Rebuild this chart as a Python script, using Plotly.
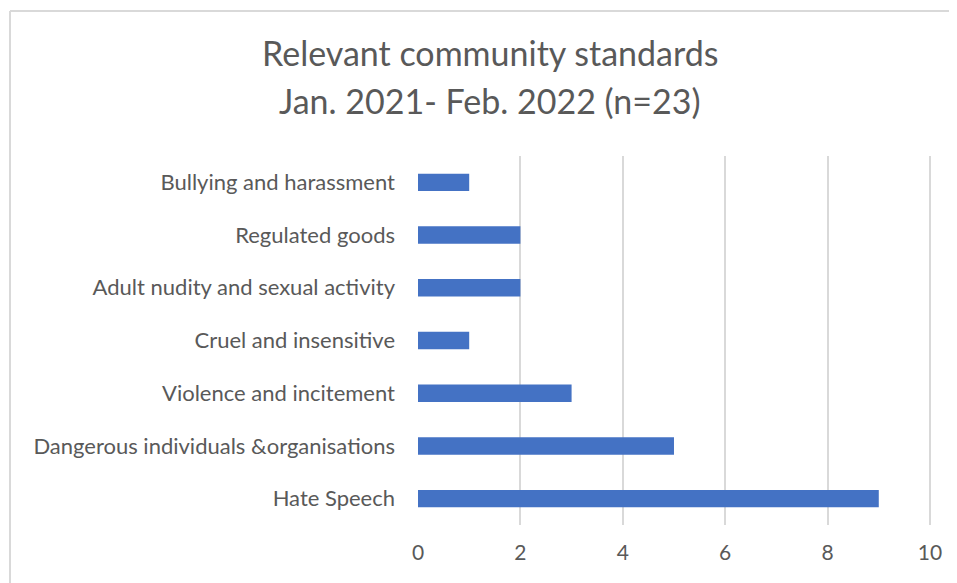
import plotly.graph_objects as go

categories = [
    "Hate Speech",
    "Dangerous individuals &organisations",
    "Violence and incitement",
    "Cruel and insensitive",
    "Adult nudity and sexual activity",
    "Regulated goods",
    "Bullying and harassment",
]
values = [9, 5, 3, 1, 2, 2, 1]
x_ticks = [0, 2, 4, 6, 8, 10]
title_lines = ["Relevant community standards", "Jan. 2021- Feb. 2022 (n=23)"]

W, H = 957, 583
OFF = 8  # page body margin
ml, mt, mb = 418 - OFF, 156 - OFF, 58 + OFF
pw = 513
mr = W - ml - pw
ph = H - mt - mb

def px_x(p):
    return (p - OFF - ml) / pw

def px_y(p):
    return (H - mb - (p - OFF)) / ph

text_color = "#595959"
font_family = "Lato, 'Open Sans', sans-serif"

fig = go.Figure(
    go.Bar(
        y=categories,
        x=values,
        orientation="h",
        marker=dict(color="#4472C4", line=dict(width=0)),
    )
)

annotations = [
    dict(text=t, xref="paper", yref="paper", x=px_x(490), y=px_y(yy),
         xanchor="center", yanchor="middle", showarrow=False,
         font=dict(size=34, color=text_color, family=font_family))
    for t, yy in zip(title_lines, [52, 100])
]

fig.update_layout(
    width=W,
    height=H,
    margin=dict(l=ml, r=mr, t=mt, b=mb, pad=0),
    paper_bgcolor="white",
    plot_bgcolor="white",
    bargap=0.67,
    showlegend=False,
    font=dict(family=font_family, color=text_color),
    annotations=annotations,
    xaxis=dict(
        range=[0, 10.02],
        tickvals=x_ticks,
        showgrid=True,
        gridcolor="#D9D9D9",
        gridwidth=2,
        zeroline=False,
        showline=False,
        ticks="",
        tickfont=dict(size=21, color=text_color),
        ticklabelstandoff=13,
    ),
    yaxis=dict(
        showgrid=False,
        zeroline=False,
        showline=False,
        ticks="",
        tickfont=dict(size=22, color=text_color),
        ticklabelstandoff=22,
    ),
    shapes=[
        dict(type="line", xref="paper", yref="paper",
             x0=px_x(10), x1=px_x(W + 20), y0=px_y(11), y1=px_y(11),
             line=dict(color="#D9D9D9", width=2)),
        dict(type="line", xref="paper", yref="paper",
             x0=px_x(10), x1=px_x(10), y0=px_y(11), y1=px_y(H + 20),
             line=dict(color="#D9D9D9", width=2)),
    ],
)

fig.write_html("out.html")
